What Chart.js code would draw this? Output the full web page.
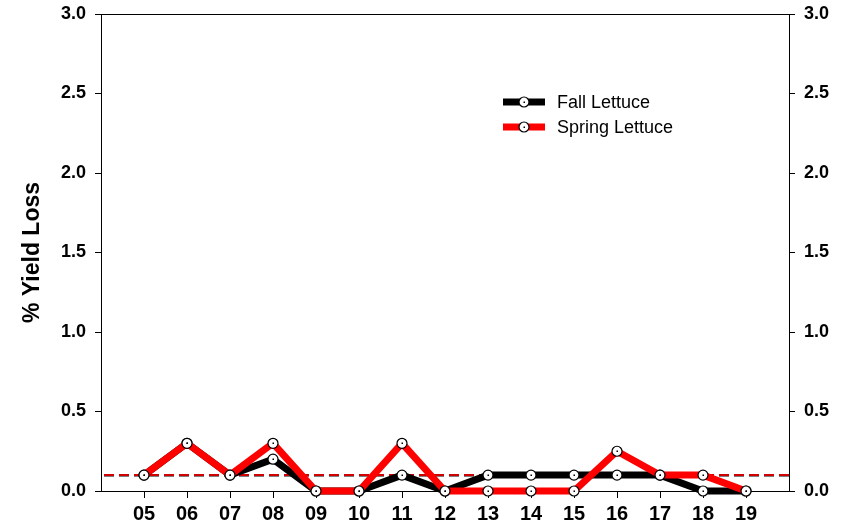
<!DOCTYPE html>
<html>
<head>
<meta charset="utf-8">
<script src="https://cdn.jsdelivr.net/npm/chart.js@4/dist/chart.umd.min.js"></script>
<style>
  html, body { margin: 0; padding: 0; background: #fff; }
  #wrap { width: 856px; height: 529px; }
</style>
</head>
<body>
<div id="wrap"><canvas id="c" width="856" height="529"></canvas></div>
<script>
const years = [5, 6, 7, 8, 9, 10, 11, 12, 13, 14, 15, 16, 17, 18, 19];
const fallLoss = [0.1, 0.3, 0.1, 0.2, 0, 0, 0.1, 0, 0.1, 0.1, 0.1, 0.1, 0.1, 0, 0];
const springLoss = [0.1, 0.3, 0.1, 0.3, 0, 0, 0.3, 0, 0, 0, 0, 0.25, 0.1, 0.1, 0];
const fallThreshold = 0.097;
const springThreshold = 0.1;
const yTicks = [0, 0.5, 1.0, 1.5, 2.0, 2.5, 3.0];

const FONT = "'Liberation Sans', Arial, sans-serif";

function pts(vals) {
  return years.map((x, i) => ({ x: x, y: vals[i] }));
}

const lineSet = (label, vals, color, order) => ({
  label: label,
  data: pts(vals),
  borderColor: color,
  borderWidth: 7,
  pointRadius: 5,
  pointBackgroundColor: "#fff",
  pointBorderColor: "#000",
  pointBorderWidth: 1.2,
  tension: 0,
  clip: false,
  order: order,
});

const dashSet = (color, level, order) => ({
  label: "",
  data: [{ x: 4, y: level }, { x: 20, y: level }],
  borderColor: color,
  borderWidth: 2,
  borderDash: [10, 5],
  borderDashOffset: 12,
  pointRadius: 0,
  clip: false,
  order: order,
});

// top frame line, centre dots in markers, legend
const extras = {
  id: "extras",
  afterDatasetsDraw(chart) {
    const ctx = chart.ctx;
    const a = chart.chartArea;
    ctx.save();
    ctx.strokeStyle = "#000";
    ctx.lineWidth = 1;
    ctx.beginPath();
    ctx.moveTo(a.left, a.top + 0.5);
    ctx.lineTo(a.right, a.top + 0.5);
    ctx.stroke();

    ctx.fillStyle = "#000";
    [0, 1].forEach((i) => {
      chart.getDatasetMeta(i).data.forEach((p) => {
        ctx.fillRect(Math.round(p.x) - 0.5, Math.round(p.y) - 0.5, 1.5, 1.5);
      });
    });

    const items = [
      ["Fall Lettuce", "#000", 102],
      ["Spring Lettuce", "#ff0000", 127],
    ];
    items.forEach(([text, color, y]) => {
      ctx.strokeStyle = color;
      ctx.lineWidth = 7;
      ctx.beginPath();
      ctx.moveTo(503, y);
      ctx.lineTo(545, y);
      ctx.stroke();
      ctx.beginPath();
      ctx.arc(524, y, 5, 0, Math.PI * 2);
      ctx.fillStyle = "#fff";
      ctx.fill();
      ctx.lineWidth = 1.2;
      ctx.strokeStyle = "#000";
      ctx.stroke();
      ctx.fillStyle = "#000";
      ctx.fillRect(523.5, y - 0.5, 1.5, 1.5);
      ctx.font = "18px " + FONT;
      ctx.textBaseline = "middle";
      ctx.textAlign = "left";
      ctx.fillText(text, 557, y + 1);
    });
    ctx.restore();
  },
};

const yAxis = (pos, width) => ({
  type: "linear",
  position: pos,
  min: 0,
  max: 3,
  afterBuildTicks: (ax) => { ax.ticks = yTicks.map((v) => ({ value: v })); },
  afterFit: (ax) => {
    ax.width = width;
    ax.paddingTop = 0;
    ax.paddingBottom = 0;
  },
  ticks: {
    color: "#000",
    padding: 9,
    font: { family: FONT, size: 18, weight: "bold" },
    callback: (v) => v.toFixed(1),
  },
  grid: { drawOnChartArea: false, tickLength: 6, tickColor: "#000" },
  border: { display: true, color: "#000", width: 1 },
});

new Chart(document.getElementById("c"), {
  type: "line",
  data: {
    datasets: [
      lineSet("Spring Lettuce", springLoss, "#ff0000", 0),
      lineSet("Fall Lettuce", fallLoss, "#000", 1),
      dashSet("#d00000", springThreshold, 2),
      dashSet("#000", fallThreshold, 3),
    ],
  },
  options: {
    responsive: false,
    animation: false,
    layout: { padding: { top: 14, left: 0, right: 0, bottom: 0 } },
    scales: {
      x: {
        type: "linear",
        min: 4,
        max: 20,
        afterBuildTicks: (ax) => { ax.ticks = years.map((v) => ({ value: v })); },
        afterFit: (ax) => {
          ax.height = 38;
          ax.paddingLeft = 0;
          ax.paddingRight = 0;
        },
        ticks: {
          color: "#000",
          padding: 4,
          maxRotation: 0,
          font: { family: FONT, size: 20, weight: "bold" },
          callback: (v) => String(v).padStart(2, "0"),
        },
        grid: { drawOnChartArea: false, tickLength: 7, tickColor: "#000" },
        border: { display: true, color: "#000", width: 1 },
      },
      y: Object.assign(yAxis("left", 101), {
        title: {
          display: true,
          text: "% Yield Loss",
          color: "#000",
          font: { family: FONT, size: 23, weight: "bold" },
          padding: { top: 19, bottom: 0 },
        },
      }),
      y2: yAxis("right", 67),
    },
    plugins: {
      legend: { display: false },
      tooltip: { enabled: false },
    },
  },
  plugins: [extras],
});
</script>
</body>
</html>
